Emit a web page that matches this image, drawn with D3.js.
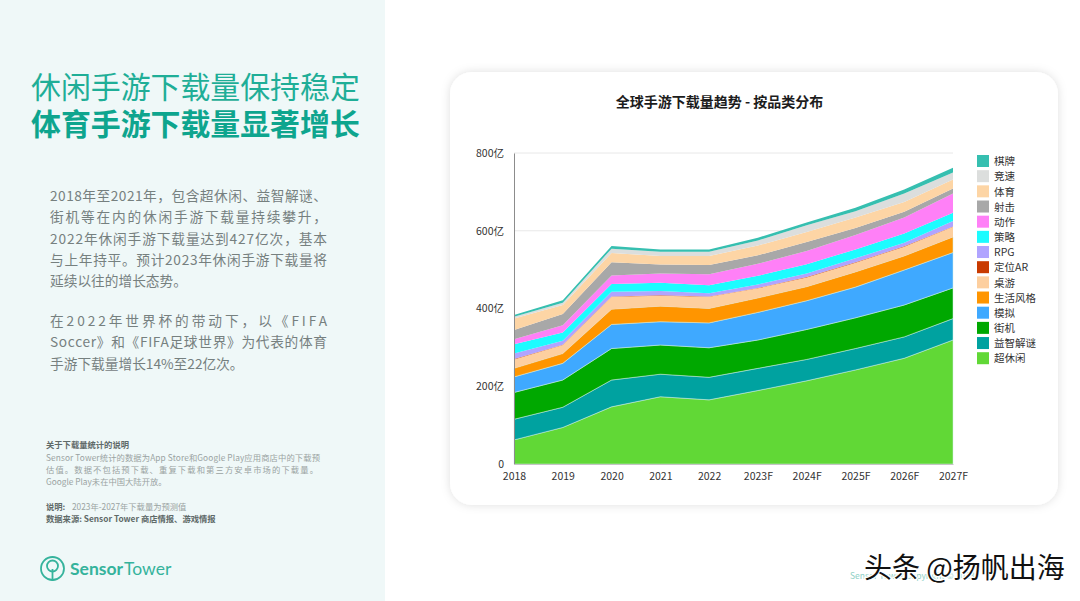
<!DOCTYPE html>
<html>
<head>
<meta charset="utf-8">
<script src="https://d3js.org/d3.v7.min.js"></script>
<style>
html,body{margin:0;padding:0;background:#fff;}
svg{display:block;font-family:"Noto Sans CJK SC","Noto Sans",sans-serif;}
</style>
</head>
<body>
<div id="chart-area"></div>
<script>
var years = ["2018","2019","2020","2021","2022","2023F","2024F","2025F","2026F","2027F"];

// bottom layer first
var categories = ["超休闲","益智解谜","街机","模拟","生活风格","桌游","定位AR","RPG","策略","动作","射击","体育","竞速","棋牌"];
var colors = ["#61d836","#00a2a0","#00a800","#3fa9ff","#ff9500","#fdcf9f","#c93a00","#b0a4ff","#1cfcff","#ff80f7","#a8a8a8","#fdd5a5","#dcdedd","#36bfb0"];

var casual = [62,94,147,173,165,189,214,242,272,319];
var puzzle = [53,52,69,58,58,57,55,55,55,55];
var arcade = [69,70,81,75,76,73,77,79,82,79];
var simulation = [40,43,62,60,64,71,74,79,90,91];
var lifestyle = [22,25,39,40,37,37,36,39,36,40];
var tabletop = [23,22,32,27,30,25,24,24,24,26];
var locationAr = [1,1,1,1,1,1,1,1,1,1];
var rpg = [14,10,12,11,8,9,9,10,9,14];
var strategy = [24,21,20,21,21,22,24,23,24,21];
var action = [13,19,22,24,28,31,34,37,41,50];
var shooter = [24,29,34,23,24,22,23,18,15,13];
var sports = [29,23,24,22,23,25,26,27,25,23];
var racing = [5,6,11,11,11,13,17,16,22,18];
var cardBoard = [4,6,7,6,6,7,7,9,10,12];

var seriesValues = [casual,puzzle,arcade,simulation,lifestyle,tabletop,locationAr,rpg,strategy,action,shooter,sports,racing,cardBoard];
var yTicks = [0,200,400,600,800];

var titleLines = ["休闲手游下载量保持稳定","体育手游下载量显著增长"];
var para1 = ["2018年至2021年，包含超休闲、益智解谜、","街机等在内的休闲手游下载量持续攀升，","2022年休闲手游下载量达到427亿次，基本","与上年持平。预计2023年休闲手游下载量将","延续以往的增长态势。"];
var para2 = ["在2022年世界杯的带动下，以《FIFA","Soccer》和《FIFA足球世界》为代表的体育","手游下载量增长14%至22亿次。"];

var total_width = 1080;
var total_height = 601;

var svg = d3.select('#chart-area').append('svg')
            .attr("width",total_width)
            .attr("height",total_height);

var defs = svg.append("defs");
var shadow = defs.append("filter").attr("id","card-shadow")
                 .attr("x","-5%").attr("y","-5%").attr("width","110%").attr("height","110%");
shadow.append("feDropShadow").attr("dx",0).attr("dy",0).attr("stdDeviation",5)
      .attr("flood-color","#000").attr("flood-opacity",0.13);

// left panel
svg.append("rect").attr("width",385).attr("height",total_height).attr("fill","#eff8f8");

svg.append("text").attr("x",31).attr("y",98)
   .attr("font-size",29.9).attr("fill","#1fae97").text(titleLines[0]);
svg.append("text").attr("x",31).attr("y",135)
   .attr("font-size",29.9).attr("font-weight",700).attr("fill","#0ea58e").text(titleLines[1]);

function body_lines(lines,y0,justified){
	lines.forEach(function(d,i){
		var t = svg.append("text")
		   .attr("x",50)
		   .attr("y",y0 + i*21.3)
		   .attr("font-size",13.7)
		   .attr("fill","#76807f")
		   .text(d);
		if(justified.indexOf(i) >= 0){
			t.attr("textLength",277).attr("lengthAdjust","spacing");
		}
	});
}
body_lines(para1,201,[0,1,2,3]);
body_lines(para2,326,[0,1]);

// notes
var notes = svg.append("g").attr("font-size",8.3);
notes.append("text").attr("x",46).attr("y",448).attr("font-weight",700).attr("fill","#5f6a69").text("关于下载量统计的说明");
notes.append("text").attr("x",46).attr("y",461).attr("fill","#9aa3a2").attr("textLength",274).text("Sensor Tower统计的数据为App Store和Google Play应用商店中的下载预");
notes.append("text").attr("x",46).attr("y",473).attr("fill","#9aa3a2").attr("textLength",272).text("估值。数据不包括预下载、重复下载和第三方安卓市场的下载量。");
notes.append("text").attr("x",46).attr("y",485).attr("fill","#9aa3a2").text("Google Play未在中国大陆开放。");
notes.append("text").attr("x",46).attr("y",510).attr("font-weight",700).attr("fill","#5f6a69").text("说明:");
notes.append("text").attr("x",72).attr("y",510).attr("fill","#9aa3a2").text("2023年-2027年下载量为预测值");
notes.append("text").attr("x",46).attr("y",522).attr("font-weight",700).attr("fill","#5f6a69").text("数据来源: Sensor Tower 商店情报、游戏情报");

// logo
var logo = svg.append("g").attr("fill","none").attr("stroke","#35b39c").attr("stroke-width",1.8);
logo.append("circle").attr("cx",52.5).attr("cy",568.5).attr("r",11.5);
logo.append("circle").attr("cx",52.5).attr("cy",566).attr("r",5.5);
logo.append("line").attr("x1",52.5).attr("x2",52.5).attr("y1",569).attr("y2",581);
var logoText = svg.append("text").attr("x",70).attr("y",575).attr("font-family","Lato, 'Open Sans', sans-serif").attr("font-size",17.5).attr("fill","#35b39c");
logoText.append("tspan").attr("font-weight",700).text("Sensor");
logoText.append("tspan").attr("dx",1).text("Tower");

// card
svg.append("rect").attr("x",450).attr("y",72).attr("width",608).attr("height",433)
   .attr("rx",22).attr("fill","#fff").attr("filter","url(#card-shadow)");

svg.append("text").attr("x",719.5).attr("y",107).attr("text-anchor","middle")
   .attr("font-size",14).attr("font-weight",700).attr("fill","#1c1c1c").text("全球手游下载量趋势 - 按品类分布");

// chart
var margin = {top:153,left:514};
var width = 439;
var height = 311;

var chart = svg.append("g").attr("transform","translate("+margin.left+","+margin.top+")");

var x = d3.scalePoint().domain(years).range([0,width]);
var y = d3.scaleLinear().domain([0,800]).range([height,0]);

var rows = years.map(function(yr,i){
	var row = {year:yr};
	categories.forEach(function(c,j){ row[c] = seriesValues[j][i]; });
	return row;
});

var stack = d3.stack().keys(categories);
var area = d3.area()
             .x(function(d){ return x(d.data.year); })
             .y0(function(d){ return y(d[0]); })
             .y1(function(d){ return y(d[1]); });

chart.append("g").selectAll("line")
     .data([600,800])
     .join("line")
     .attr("x1",0).attr("x2",width)
     .attr("y1",function(d){ return y(d); })
     .attr("y2",function(d){ return y(d); })
     .attr("stroke","#e8e8e8");

chart.append("g").selectAll("path")
     .data(stack(rows))
     .join("path")
     .attr("d",area)
     .attr("fill",function(d,i){ return colors[i]; })
     .attr("stroke",function(d,i){ return i < 5 ? "#cfeee6" : "none"; })
     .attr("stroke-width",0.5);

var yAxis = d3.axisLeft(y).tickValues(yTicks).tickSize(0).tickPadding(10)
              .tickFormat(function(d){ return d === 0 ? "0" : d + "亿"; });
var xAxis = d3.axisBottom(x).tickSize(0).tickPadding(9);

var gy = chart.append("g").call(yAxis);
var gx = chart.append("g").attr("transform","translate(0,"+height+")").call(xAxis);

gy.select(".domain").attr("stroke","#8c8c8c");
gx.select(".domain").attr("stroke","#c4c4c4");
gy.selectAll("text").attr("font-size",10.5).attr("fill","#333").attr("font-family","'Noto Sans CJK SC',sans-serif");
gx.selectAll("text").attr("font-size",10.5).attr("fill","#333").attr("font-family","'Noto Sans CJK SC',sans-serif");

// legend, top entry is the top layer
var legend = svg.append("g").selectAll("g")
                .data(d3.range(categories.length).reverse())
                .join("g")
                .attr("transform",function(d,i){ return "translate(977,"+(155 + i*15.17)+")"; });
legend.append("rect").attr("width",12).attr("height",12)
      .attr("fill",function(d){ return colors[d]; });
legend.append("text").attr("x",17).attr("y",10.2)
      .attr("font-size",10.5).attr("fill","#333")
      .text(function(d){ return categories[d]; });

// footer + watermark
svg.append("text").attr("x",850).attr("y",579).attr("font-size",8.5).attr("fill","#8fd0c6").text("Sensor Tower Copyright © 2023");
svg.append("text").attr("x",864).attr("y",578).attr("font-size",28).attr("fill","#111")
   .attr("stroke","#fff").attr("stroke-width",2.5).attr("paint-order","stroke").text("头条 @扬帆出海");
</script>
</body>
</html>
